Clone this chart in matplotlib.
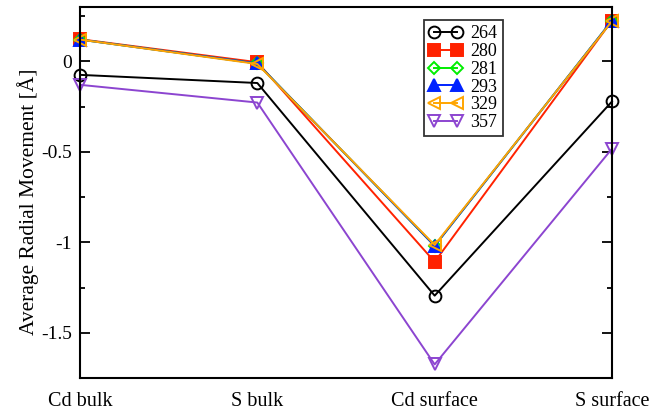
import matplotlib
matplotlib.use("Agg")
import matplotlib.pyplot as plt
from matplotlib.ticker import FixedLocator

plt.rcParams["font.family"] = ["Liberation Serif", "DejaVu Serif"]

# ------------------- data -------------------
categories = ["Cd bulk", "S bulk", "Cd surface", "S surface"]
labels = ["264", "280", "281", "293", "329", "357"]
v264 = [-0.075, -0.12, -1.295, -0.222]
v280 = [0.122, -0.005, -1.108, 0.225]
v281 = [0.120, -0.012, -1.020, 0.225]
v293 = [0.120, -0.012, -1.020, 0.225]
v329 = [0.120, -0.015, -1.015, 0.222]
v357 = [-0.130, -0.228, -1.675, -0.483]
series = [v264, v280, v281, v293, v329, v357]

colors = ["black", "#ff2200", "#00ee00", "#0022ff", "#ffa500", "#8c45d0"]
markers = ["o", "s", "D", "^", "<", "v"]
filled = [False, True, False, True, False, False]
msizes = [8.5, 8, 6.5, 8, 8, 8]

# ------------------- plot -------------------
fig = plt.figure(figsize=(6.65, 4.13), dpi=100)
ax = fig.add_axes([80/665, 35/413, 532/665, 371/413])

x = list(range(len(categories)))
handles = []
for vals, lab, c, m, f, ms in zip(series, labels, colors, markers, filled, msizes):
    h, = ax.plot(x, vals, color=c, lw=1.4, marker=m, ms=ms, mew=1.4,
                 mfc=c if f else "none", mec=c, label=lab, clip_on=False)
    handles.append(h)

ax.set_xlim(0, 3)
ax.set_ylim(-1.75, 0.3)
ax.set_xticks(x)
ax.set_xticklabels(categories, fontsize=14.5)
ax.tick_params(axis="x", length=0, pad=10)

ax.yaxis.set_major_locator(FixedLocator([0, -0.5, -1, -1.5]))
ax.yaxis.set_minor_locator(FixedLocator([0.25, -0.25, -0.75, -1.25]))
ax.set_yticklabels(["0", "-0.5", "-1", "-1.5"], fontsize=14)
ax.tick_params(axis="y", which="major", direction="in", length=7.5, width=1.3,
               left=True, right=True, pad=6)
ax.tick_params(axis="y", which="minor", direction="in", length=3.8, width=1.3,
               left=True, right=True)
for s in ax.spines.values():
    s.set_linewidth(1.5)

ax.set_ylabel("Average Radial Movement [Å]", fontsize=15.5)
ax.yaxis.set_label_coords(-0.077, 0.475)

leg = fig.legend(handles=handles, loc="upper right",
                 bbox_to_anchor=(503/665, 1 - 20/413), numpoints=2,
                 fontsize=13, frameon=True, fancybox=False, handlelength=1.85,
                 handletextpad=0.45, borderpad=0.3, labelspacing=0.04,
                 borderaxespad=0)
leg.get_frame().set_edgecolor("black")
leg.get_frame().set_linewidth(1.3)

fig.savefig("out.png", dpi=100)
